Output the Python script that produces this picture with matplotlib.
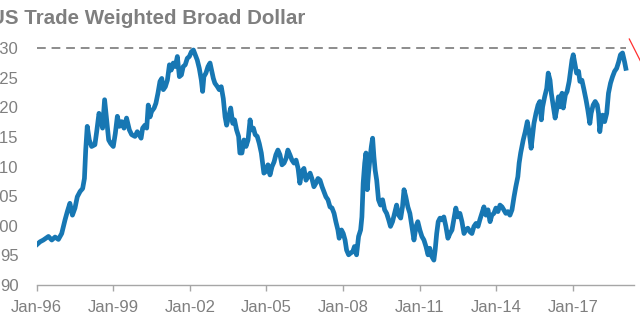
import matplotlib
matplotlib.use('Agg')
import matplotlib.pyplot as plt
from matplotlib.lines import Line2D

plt.rcParams['font.family'] = ['Liberation Sans', 'DejaVu Sans']

# broad trade-weighted dollar index (Jan 1997 = 100), decimal years
years = [
    1996.00, 1996.13, 1996.26, 1996.46, 1996.59, 1996.72, 1996.85, 1996.98,
    1997.11, 1997.20, 1997.30, 1997.40, 1997.50, 1997.59, 1997.70, 1997.80,
    1997.87, 1997.92, 1997.98, 1998.06, 1998.15, 1998.28, 1998.35, 1998.44,
    1998.52, 1998.58, 1998.66, 1998.74, 1998.82, 1998.90, 1999.00, 1999.08,
    1999.16, 1999.24, 1999.33, 1999.42, 1999.52, 1999.63, 1999.72, 1999.85,
    1999.94, 2000.05,
    2000.09, 2000.15, 2000.24, 2000.31, 2000.37, 2000.44, 2000.50, 2000.60,
    2000.67, 2000.75, 2000.83, 2000.90, 2000.96, 2001.04, 2001.12, 2001.20,
    2001.27, 2001.35, 2001.43, 2001.51, 2001.59, 2001.67, 2001.74, 2001.82,
    2001.90, 2001.98, 2002.06, 2002.14, 2002.21, 2002.29, 2002.37, 2002.45,
    2002.50, 2002.55, 2002.63, 2002.71, 2002.79, 2002.85, 2002.92, 2002.98,
    2003.08, 2003.15, 2003.23, 2003.31, 2003.38, 2003.44, 2003.52, 2003.60,
    2003.68, 2003.75, 2003.83, 2003.91, 2003.96,
    2004.04, 2004.12, 2004.20, 2004.28, 2004.36, 2004.41, 2004.49, 2004.56,
    2004.64, 2004.72, 2004.80, 2004.85, 2004.90, 2004.98, 2005.06, 2005.14,
    2005.22, 2005.30, 2005.37, 2005.45, 2005.53, 2005.61, 2005.69, 2005.77,
    2005.84, 2005.92, 2006.00, 2006.08, 2006.16, 2006.24, 2006.31, 2006.39,
    2006.47, 2006.55, 2006.63, 2006.71, 2006.78, 2006.86, 2006.94, 2007.02,
    2007.10, 2007.18, 2007.25, 2007.33, 2007.41, 2007.49, 2007.57, 2007.65,
    2007.72, 2007.80,
    2007.85, 2007.94, 2008.01, 2008.08, 2008.14, 2008.22, 2008.30, 2008.38,
    2008.45, 2008.53, 2008.61, 2008.69, 2008.74, 2008.79, 2008.85, 2008.90,
    2008.95, 2009.00, 2009.05, 2009.11, 2009.16, 2009.21, 2009.26, 2009.32,
    2009.39, 2009.47, 2009.55, 2009.63, 2009.71, 2009.79, 2009.86, 2009.94,
    2010.02, 2010.10, 2010.18, 2010.26, 2010.33, 2010.39, 2010.46, 2010.54,
    2010.62, 2010.70, 2010.78, 2010.86, 2010.93, 2011.01, 2011.09, 2011.17,
    2011.25, 2011.33, 2011.40, 2011.48,
    2011.56, 2011.61, 2011.67, 2011.73, 2011.80, 2011.87, 2011.95, 2012.03,
    2012.11, 2012.19, 2012.27, 2012.34, 2012.42, 2012.50, 2012.58, 2012.66,
    2012.74, 2012.81, 2012.89, 2012.97, 2013.05, 2013.13, 2013.21, 2013.29,
    2013.36, 2013.44, 2013.52, 2013.60, 2013.68, 2013.76, 2013.83, 2013.91,
    2013.99, 2014.07, 2014.15, 2014.23, 2014.30, 2014.38, 2014.46, 2014.54,
    2014.62, 2014.70, 2014.77, 2014.85, 2014.90, 2014.96, 2015.01, 2015.06,
    2015.14, 2015.22, 2015.30, 2015.37,
    2015.48, 2015.56, 2015.64, 2015.71, 2015.77, 2015.82, 2015.90, 2015.98,
    2016.04, 2016.11, 2016.16, 2016.21, 2016.26, 2016.31, 2016.37, 2016.44,
    2016.50, 2016.58, 2016.63, 2016.71, 2016.78, 2016.86, 2016.92, 2016.97,
    2017.02, 2017.07, 2017.15, 2017.23, 2017.28, 2017.36, 2017.44, 2017.52,
    2017.59, 2017.67, 2017.72, 2017.80, 2017.88, 2017.96, 2018.01, 2018.06,
    2018.12, 2018.17, 2018.25, 2018.33, 2018.40, 2018.48, 2018.56, 2018.64,
    2018.72, 2018.80, 2018.87, 2018.95, 2019.03, 2019.08,
]
index_vals = [
    96.8, 97.3, 97.6, 98.2, 97.6, 98.1, 97.7, 98.7,
    101.0, 102.4, 103.8, 101.8, 103.0, 104.9, 105.8, 106.3,
    108.0, 112.8, 116.8, 114.5, 113.4, 113.7, 115.9, 119.0,
    117.9, 116.5, 121.3, 117.9, 114.5, 113.9, 113.4, 115.6,
    118.5, 116.8, 117.6, 116.5, 118.2, 116.2, 115.4, 115.1,
    115.9, 115.1,
    114.8, 116.5, 117.0, 116.5, 120.4, 118.4, 119.3, 119.9,
    120.7, 122.4, 124.4, 124.9, 123.0, 123.5, 124.6, 127.2,
    126.3, 127.5, 126.9, 128.6, 125.2, 125.5, 126.9, 127.2,
    128.3, 128.6, 129.4, 129.7, 128.9, 128.0, 126.6, 124.6,
    122.7, 125.2, 125.8, 126.9, 127.5, 126.3, 124.9, 124.1,
    123.5, 123.0, 123.5, 121.5, 118.4, 117.0, 118.4, 119.9,
    117.3, 117.9, 116.2, 115.1, 112.3,
    112.3, 114.5, 113.4, 114.5, 117.9, 116.2, 116.5, 115.4,
    115.1, 113.9, 112.3, 110.6, 108.9, 109.2, 110.3, 108.6,
    110.0, 110.8, 112.0, 112.8, 112.0, 110.3, 110.6, 111.4,
    112.8, 112.0, 111.1, 110.6, 111.1, 109.7, 107.2, 109.2,
    109.7, 107.7, 108.3, 108.9, 108.0, 106.6, 107.2, 108.0,
    107.7, 106.6, 105.8, 104.9, 104.4, 103.2, 103.0, 102.1,
    100.7, 99.3,
    97.9, 99.3, 98.7, 97.6, 95.9, 95.1, 95.4, 95.6,
    96.5, 95.1, 98.2, 99.3, 101.5, 107.2, 110.6, 112.3,
    106.1, 108.9, 111.1, 113.4, 114.8, 111.7, 109.4, 107.7,
    104.4, 103.5, 104.4, 102.7, 102.1, 101.0, 99.9, 100.7,
    102.1, 103.5, 101.8, 101.3, 103.2, 106.1, 104.9, 103.2,
    102.1, 99.9, 97.6, 99.9, 100.7, 99.3, 98.2, 97.6,
    96.5, 95.1, 96.2, 94.8,
    94.2, 95.9, 98.7, 100.7, 101.3, 101.0, 101.5, 99.9,
    97.9, 98.7, 99.3, 101.0, 103.0, 101.5, 102.1, 100.7,
    98.7, 99.3, 99.6, 99.0, 98.7, 99.9, 100.4, 99.9,
    101.0, 102.1, 103.2, 101.8, 102.7, 100.7, 101.8, 102.1,
    103.0, 102.4, 103.5, 103.2, 102.7, 102.1, 102.4, 101.8,
    102.7, 104.9, 106.6, 108.3, 110.6, 112.3, 113.4, 114.5,
    115.9, 117.6, 115.6, 113.1,
    117.3, 119.0, 120.4, 121.0, 117.9, 120.1, 121.8, 123.2,
    125.8, 124.6, 122.4, 121.0, 119.6, 118.2, 119.6, 121.8,
    120.1, 122.4, 119.9, 122.1, 122.7, 124.4, 126.3, 128.0,
    128.9, 127.7, 125.8, 126.1, 124.4, 124.6, 123.0, 121.3,
    119.6, 117.3, 119.0, 120.4, 121.0, 120.4, 119.0, 115.9,
    117.9, 118.7, 117.6, 119.0, 122.4, 124.1, 125.2, 126.1,
    126.6, 127.7, 128.9, 129.2, 127.7, 126.6,
]

tick_years = [1996, 1999, 2002, 2005, 2008, 2011, 2014, 2017]
tick_labels = ['Jan-96', 'Jan-99', 'Jan-02', 'Jan-05', 'Jan-08', 'Jan-11', 'Jan-14', 'Jan-17']
y_ticks = [90, 95, 100, 105, 110, 115, 120, 125, 130]
ref_level = 130

W, H = 640, 328
fig = plt.figure(figsize=(W / 100, H / 100), dpi=100)
ax = fig.add_axes([36.7 / W, 43 / H, (634 - 36.7) / W, (285 - 42.3) / H])

grey = '#7f7f7f'
ax.plot([years[0], years[-1]], [ref_level, ref_level], color='#8c8c8c', lw=1.4,
        dashes=(4.5, 3), zorder=1)
ax.plot(years, index_vals, color='#1777b3', lw=3.4, solid_joinstyle='round', zorder=2)

ax.set_xlim(1996, 2019.4)
ax.set_ylim(90, 131)
ax.set_xticks(tick_years)
ax.set_xticklabels(tick_labels)
ax.set_yticks(y_ticks)
ax.set_yticklabels([str(v) for v in y_ticks])

for s in ['top', 'right', 'left']:
    ax.spines[s].set_visible(False)
ax.spines['bottom'].set_color('#a6a6a6')
ax.spines['bottom'].set_linewidth(1.0)
ax.tick_params(axis='x', colors='#a6a6a6', labelcolor=grey, length=4, width=1.0,
               direction='out', pad=7, labelsize=12)
ax.tick_params(axis='y', length=0, pad=13, labelcolor=grey, labelsize=12)

fig.text(-10 / W, 1 - 24 / H, 'US Trade Weighted Broad Dollar', color=grey,
         fontsize=14.8, fontweight='bold', ha='left', va='baseline')

# red pointer running off the right edge
fig.add_artist(Line2D([629.3 / W, 646 / W], [1 - 39 / H, 1 - 72 / H],
                      color='#ff3030', lw=0.9, transform=fig.transFigure))

fig.savefig('out.png', dpi=100)
